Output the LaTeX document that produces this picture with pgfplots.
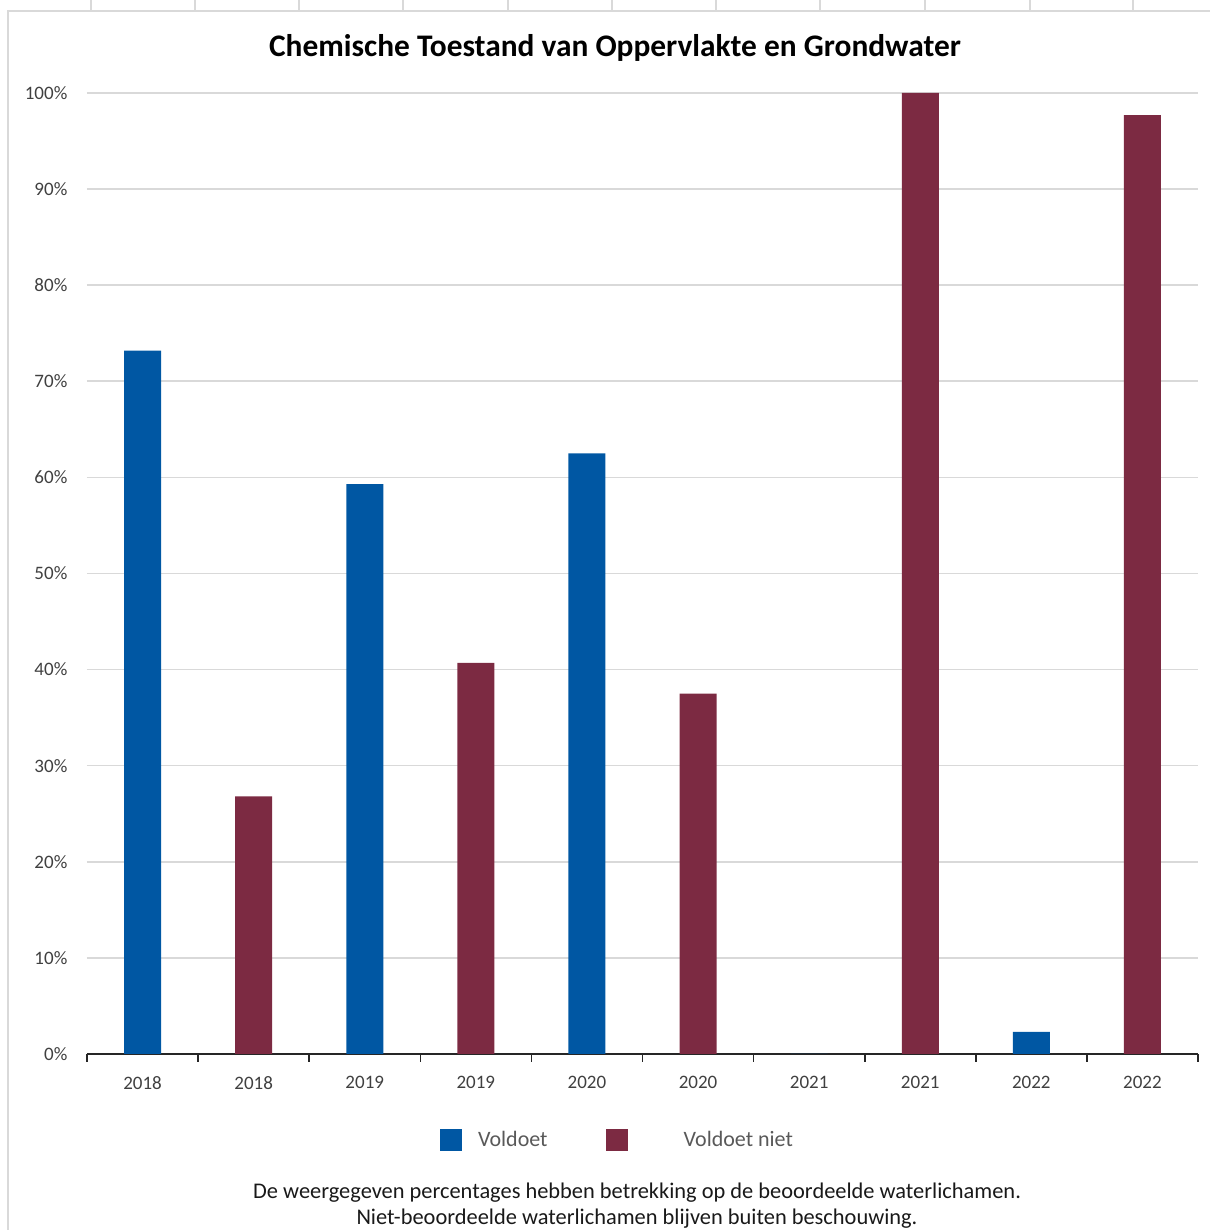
\documentclass[border=0pt]{standalone}
\usepackage{pgfplots}
\pgfplotsset{compat=1.18}
\usepackage{fontspec}
\setmainfont{Carlito}

\definecolor{vblue}{RGB}{0,87,163}
\definecolor{vred}{RGB}{124,42,66}
\definecolor{gridgray}{RGB}{217,217,217}
\definecolor{ticktxt}{RGB}{64,64,64}
\definecolor{legtxt}{RGB}{89,89,89}

\begin{document}
\begin{tikzpicture}[x=1pt,y=1pt]
\path[use as bounding box] (0,0) rectangle (605,615);
% outer frame of the sheet
\draw[gridgray, line width=0.8pt] (4,0) -- (4,609.5) -- (605,609.5);
\foreach \x in {45.5,97.5,149.5,201.5,254,306,358,410,462.5,515,566.5}
  \draw[gridgray, line width=0.6pt] (\x,609.5) -- (\x,615);

\begin{axis}[
  at={(43.5pt,88pt)}, anchor=south west,
  scale only axis, width=555.5pt, height=480.5pt,
  xmin=-0.5, xmax=9.5, ymin=0, ymax=100,
  axis x line*=bottom, axis y line*=left,
  x axis line style={-, black!85, line width=1pt},
  y axis line style={draw=none},
  xtick={0,...,9},
  xticklabels={2018,2018,2019,2019,2020,2020,2021,2021,2022,2022},
  minor xtick={-0.5,0.5,...,9.5},
  major tick length=0pt, minor tick length=3.8pt,
  tick align=outside,
  minor x tick style={black!85, line width=0.8pt},
  ytick={0,10,...,100},
  yticklabels={0\%,10\%,20\%,30\%,40\%,50\%,60\%,70\%,80\%,90\%,100\%},
  ytick style={draw=none},
  ymajorgrids, grid style={gridgray, line width=0.8pt},
  ticklabel style={font=\fontsize{9.5}{11}\selectfont, text=ticktxt},
  xticklabel style={yshift=-7.5pt},
  yticklabel style={xshift=-6.3pt},
  ybar, bar width=18.5pt, bar shift=0pt,
  legend style={at={(0.312,-0.0895)}, anchor=west, draw=none, fill=none,
    font=\fontsize{11}{13}\selectfont, text=legtxt,
    /tikz/every even column/.append style={column sep=27pt}},
  legend columns=2,
  legend image code/.code={\fill[#1] (0pt,-5.3pt) rectangle (11pt,5.3pt);},
]
\addplot[fill=vblue, draw=none] coordinates {
  (0,73.2) (2,59.3) (4,62.5) (6,0) (8,2.3)
};
\addlegendentry{\hspace*{6pt}Voldoet}
\addplot[fill=vred, draw=none] coordinates {
  (1,26.8) (3,40.7) (5,37.5) (7,100) (9,97.7)
};
\addlegendentry{\hspace*{26pt}Voldoet niet}
\end{axis}

\node[font=\fontsize{15.7}{19}\selectfont\bfseries] at (307.5,591)
  {Chemische Toestand van Oppervlakte en Grondwater};
\node[font=\fontsize{11.2}{13}\selectfont, align=center, text=black!90] at (318.5,12)
  {De weergegeven percentages hebben betrekking op de beoordeelde waterlichamen.\\
   Niet-beoordeelde waterlichamen blijven buiten beschouwing.};
\end{tikzpicture}
\end{document}
